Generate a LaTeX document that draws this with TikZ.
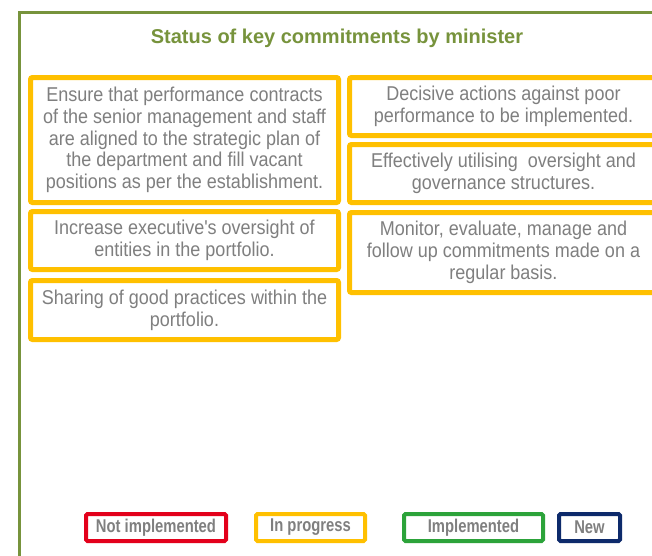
\documentclass[tikz,border=0pt]{standalone}
\usepackage{fontspec}
\setmainfont{Liberation Sans}
\newfontfamily\narrowfont[FakeStretch=0.8]{Liberation Sans}
\newfontfamily\bodyfont[FakeStretch=0.9]{Liberation Sans}
\definecolor{frameg}{HTML}{77933C}
\definecolor{ylw}{HTML}{FFC000}
\definecolor{txtg}{HTML}{7F7F7F}
\definecolor{redl}{HTML}{E3001B}
\definecolor{greenl}{HTML}{2CA33A}
\definecolor{navyl}{HTML}{0D2A6B}
\tikzset{
  item/.style={draw=ylw, line width=5pt, rounded corners=2pt, fill=white,
    minimum width=308pt, align=center, inner sep=0pt,
    text=txtg, font=\bodyfont\fontsize{20}{21.7}\selectfont},
  legend/.style={line width=4pt, rounded corners=1.5pt, inner sep=0pt,
    minimum height=27pt, text=txtg, font=\narrowfont\bfseries\fontsize{18.5}{22}\selectfont},
}
\begin{document}
\begin{tikzpicture}[x=1pt,y=-1pt]
\useasboundingbox (0,0) rectangle (652,555);
\clip (0,0) rectangle (652,555);
\draw[frameg, line width=3pt] (19.5,12) rectangle (700,620);
\node[text=frameg, font=\bfseries\fontsize{20}{24}\selectfont] (title) at (337,38.5) {Status of key commitments by minister};
% left column
\node[item, minimum height=125pt] (b1) at (184.5,140) {Ensure that performance contracts\\of the senior management and staff\\are aligned to the strategic plan of\\the department and fill vacant\\positions as per the establishment.};
\node[item, minimum height=58pt] (b2) at (184.5,240.5) {Increase executive{\char39}s oversight of\\entities in the portfolio.};
\node[item, minimum height=59pt] (b3) at (184.5,310) {Sharing of good practices within the\\portfolio.};
% right column
\node[item, minimum height=58pt] (r1) at (503.5,106.5) {Decisive actions against poor\\performance to be implemented.};
\node[item, minimum height=58pt] (r2) at (503.5,173.5) {Effectively utilising\ \ oversight and\\governance structures.};
\node[item, minimum height=80pt] (r3) at (503.5,252.5) {Monitor, evaluate, manage and\\follow up commitments made on a\\regular basis.};
% legend
\node[legend, draw=redl, minimum width=140pt] (l1) at (156,527.5) {Not implemented};
\node[legend, draw=ylw, minimum width=109pt] (l2) at (310.5,527.5) {In progress};
\node[legend, draw=greenl, minimum width=139pt] (l3) at (473.5,527.5) {Implemented};
\node[legend, draw=navyl, minimum width=61pt] (l4) at (589.5,527.5) {New};
\end{tikzpicture}
\end{document}
